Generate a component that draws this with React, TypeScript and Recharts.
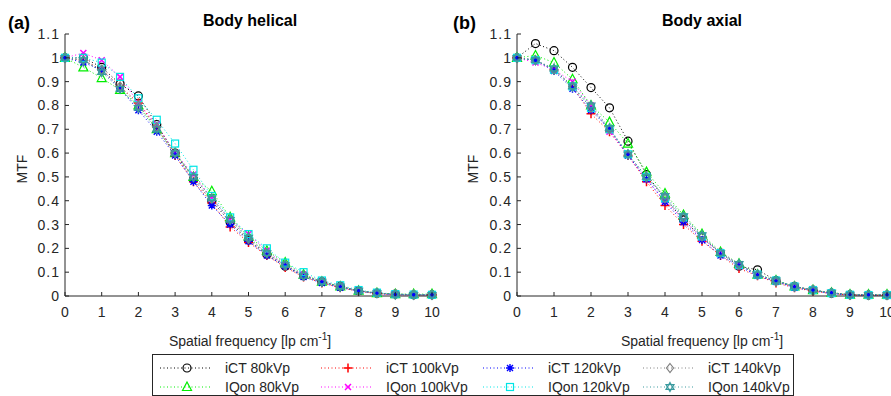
import React from "react"
import { LineChart, Line, XAxis, YAxis } from "recharts"

const freq = [0, 0.5, 1, 1.5, 2, 2.5, 3, 3.5, 4, 4.5, 5, 5.5, 6, 6.5, 7, 7.5, 8, 8.5, 9, 9.5, 10]
const xTicks = [0, 1, 2, 3, 4, 5, 6, 7, 8, 9, 10]
const yTicks = [0, 0.1, 0.2, 0.3, 0.4, 0.5, 0.6, 0.7, 0.8, 0.9, 1, 1.1]

// Body helical
const helICT80 = [1, 1.0, 0.96, 0.89, 0.84, 0.72, 0.6, 0.49, 0.4, 0.31, 0.235, 0.175, 0.125, 0.085, 0.06, 0.04, 0.022, 0.012, 0.008, 0.005, 0.005]
const helIQ80 = [1, 0.96, 0.915, 0.865, 0.8, 0.7, 0.6, 0.5, 0.44, 0.33, 0.25, 0.19, 0.14, 0.09, 0.06, 0.04, 0.022, 0.012, 0.008, 0.008, 0.008]
const helICT100 = [1, 0.99, 0.95, 0.88, 0.81, 0.71, 0.59, 0.48, 0.39, 0.29, 0.225, 0.17, 0.12, 0.08, 0.055, 0.035, 0.02, 0.01, 0.005, 0.004, 0.004]
const helIQ100 = [1, 1.02, 0.99, 0.92, 0.81, 0.72, 0.6, 0.51, 0.41, 0.32, 0.26, 0.19, 0.13, 0.09, 0.06, 0.04, 0.022, 0.012, 0.006, 0.005, 0.005]
const helICT120 = [1, 0.98, 0.95, 0.87, 0.78, 0.69, 0.59, 0.48, 0.38, 0.3, 0.23, 0.17, 0.125, 0.08, 0.055, 0.035, 0.02, 0.01, 0.005, 0.004, 0.004]
const helIQ120 = [1, 1.0, 0.98, 0.92, 0.83, 0.74, 0.64, 0.53, 0.42, 0.33, 0.26, 0.2, 0.14, 0.1, 0.065, 0.045, 0.025, 0.014, 0.008, 0.006, 0.005]
const helICT140 = [1, 0.99, 0.95, 0.88, 0.8, 0.71, 0.6, 0.5, 0.41, 0.32, 0.24, 0.18, 0.13, 0.085, 0.06, 0.04, 0.02, 0.012, 0.008, 0.006, 0.005]
const helIQ140 = [1, 0.99, 0.94, 0.87, 0.79, 0.7, 0.6, 0.5, 0.41, 0.32, 0.245, 0.18, 0.13, 0.085, 0.06, 0.04, 0.022, 0.012, 0.006, 0.005, 0.005]

// Body axial
const axICT80 = [1, 1.06, 1.03, 0.96, 0.875, 0.79, 0.65, 0.51, 0.41, 0.32, 0.245, 0.18, 0.125, 0.11, 0.065, 0.04, 0.025, 0.012, 0.005, 0.004, 0.004]
const axIQ80 = [1, 1.01, 0.98, 0.91, 0.8, 0.73, 0.64, 0.52, 0.43, 0.34, 0.26, 0.185, 0.135, 0.09, 0.065, 0.04, 0.025, 0.014, 0.006, 0.006, 0.006]
const axICT100 = [1, 0.99, 0.95, 0.88, 0.765, 0.69, 0.59, 0.48, 0.38, 0.3, 0.23, 0.17, 0.115, 0.085, 0.055, 0.035, 0.02, 0.01, 0.004, 0.003, 0.003]
const axIQ100 = [1, 0.98, 0.95, 0.9, 0.8, 0.69, 0.59, 0.49, 0.4, 0.32, 0.24, 0.185, 0.13, 0.09, 0.06, 0.04, 0.025, 0.012, 0.005, 0.004, 0.004]
const axICT120 = [1, 0.99, 0.945, 0.87, 0.78, 0.7, 0.59, 0.49, 0.395, 0.31, 0.235, 0.17, 0.125, 0.085, 0.06, 0.035, 0.022, 0.01, 0.004, 0.003, 0.003]
const axIQ120 = [1, 0.99, 0.95, 0.88, 0.79, 0.7, 0.595, 0.5, 0.41, 0.33, 0.25, 0.18, 0.13, 0.09, 0.065, 0.04, 0.025, 0.012, 0.005, 0.004, 0.004]
const axICT140 = [1, 0.99, 0.95, 0.88, 0.79, 0.7, 0.595, 0.5, 0.41, 0.33, 0.25, 0.18, 0.13, 0.09, 0.06, 0.04, 0.025, 0.012, 0.005, 0.004, 0.004]
const axIQ140 = [1, 0.99, 0.955, 0.88, 0.8, 0.705, 0.595, 0.5, 0.42, 0.335, 0.255, 0.18, 0.135, 0.09, 0.065, 0.04, 0.025, 0.014, 0.006, 0.005, 0.005]

const series = [
  { key: "ict80", name: "iCT 80kVp", color: "#000000", marker: "circle" },
  { key: "iq80", name: "IQon 80kVp", color: "#00ee00", marker: "triangle" },
  { key: "ict100", name: "iCT 100kVp", color: "#ff0000", marker: "plus" },
  { key: "iq100", name: "IQon 100kVp", color: "#ff00ff", marker: "cross" },
  { key: "ict120", name: "iCT 120kVp", color: "#0000ff", marker: "star" },
  { key: "iq120", name: "IQon 120kVp", color: "#00e5e5", marker: "square" },
  { key: "ict140", name: "iCT 140kVp", color: "#808080", marker: "diamond" },
  { key: "iq140", name: "IQon 140kVp", color: "#3a9a9e", marker: "hexagram" },
]

const buildRows = (cols: number[][]) =>
  freq.map((f, i) => {
    const row: Record<string, number> = { f }
    series.forEach((s, j) => (row[s.key] = cols[j][i]))
    return row
  })

const helicalData = buildRows([helICT80, helIQ80, helICT100, helIQ100, helICT120, helIQ120, helICT140, helIQ140])
const axialData = buildRows([axICT80, axIQ80, axICT100, axIQ100, axICT120, axIQ120, axICT140, axIQ140])

const FONT = "'Liberation Sans', Arial, Helvetica, sans-serif"
const AXIS = "#262626"

function Marker({ kind, cx, cy, color }: { kind: string; cx: number; cy: number; color: string }) {
  const p = { fill: "none", stroke: color, strokeWidth: 1.2 }
  switch (kind) {
    case "circle":
      return <circle cx={cx} cy={cy} r={4} {...p} />
    case "triangle":
      return <polygon points={`${cx},${cy - 5} ${cx + 4.5},${cy + 3.5} ${cx - 4.5},${cy + 3.5}`} {...p} />
    case "plus":
      return <path d={`M${cx - 4.5},${cy}H${cx + 4.5}M${cx},${cy - 4.5}V${cy + 4.5}`} {...p} strokeWidth={1.5} />
    case "cross":
      return <path d={`M${cx - 3},${cy - 3}L${cx + 3},${cy + 3}M${cx + 3},${cy - 3}L${cx - 3},${cy + 3}`} {...p} strokeWidth={1.5} />
    case "star":
      return (
        <path
          d={`M${cx - 4},${cy}H${cx + 4}M${cx},${cy - 4}V${cy + 4}M${cx - 3},${cy - 3}L${cx + 3},${cy + 3}M${cx + 3},${cy - 3}L${cx - 3},${cy + 3}`}
          {...p}
          strokeWidth={1.4}
        />
      )
    case "square":
      return <rect x={cx - 3.5} y={cy - 3.5} width={7} height={7} {...p} />
    case "diamond":
      return <polygon points={`${cx},${cy - 4.5} ${cx + 3.5},${cy} ${cx},${cy + 4.5} ${cx - 3.5},${cy}`} {...p} />
    default:
      return (
        <g {...p}>
          <polygon points={`${cx},${cy - 4.5} ${cx + 4},${cy + 2.3} ${cx - 4},${cy + 2.3}`} />
          <polygon points={`${cx},${cy + 4.5} ${cx + 4},${cy - 2.3} ${cx - 4},${cy - 2.3}`} />
        </g>
      )
  }
}

const XTick = (props: any) => {
  const { x, y, payload } = props
  return (
    <g>
      <line x1={x} y1={y} x2={x} y2={y - 4} stroke={AXIS} />
      <text x={x} y={y + 21} textAnchor="middle" fontSize={14} fontFamily={FONT} fill={AXIS}>
        {payload.value}
      </text>
    </g>
  )
}

const YTick = (props: any) => {
  const { x, y, payload } = props
  return (
    <g>
      <line x1={x} y1={y} x2={x + 4} y2={y} stroke={AXIS} />
      <text x={x - 5} y={y + 5} textAnchor="end" fontSize={14} fontFamily={FONT} fill={AXIS} letterSpacing={1}>
        {payload.value}
      </text>
    </g>
  )
}

function Panel({ data, width, margin }: { data: any[]; width: number; margin: any }) {
  return (
    <LineChart width={width} height={340} data={data} margin={margin}>
      <XAxis
        dataKey="f"
        type="number"
        domain={[0, 10]}
        ticks={xTicks}
        height={1}
        tickSize={0}
        tickMargin={0}
        tickLine={false}
        tick={XTick}
        stroke={AXIS}
        interval={0}
      />
      <YAxis
        type="number"
        domain={[0, 1.1]}
        ticks={yTicks}
        width={1}
        tickSize={0}
        tickMargin={0}
        tickLine={false}
        tick={YTick}
        stroke={AXIS}
        interval={0}
      />
      {series.map((s) => (
        <Line
          key={s.key}
          dataKey={s.key}
          name={s.name}
          stroke={s.color}
          strokeWidth={1}
          strokeDasharray="1 2.5"
          isAnimationActive={false}
          dot={(d: any) => <Marker key={`${s.key}-${d.index}`} kind={s.marker} cx={d.cx} cy={d.cy} color={s.color} />}
        />
      ))}
    </LineChart>
  )
}

const legendCols = [187, 348, 510, 670]

export default function App() {
  return (
    <div style={{ position: "absolute", left: 0, top: 0, width: 891, height: 396, overflow: "hidden", background: "#fff" }}>
      <div style={{ position: "absolute", left: 0, top: 0 }}>
        <Panel data={helicalData} width={450} margin={{ top: 34, left: 64, right: 18, bottom: 43 }} />
      </div>
      <div style={{ position: "absolute", left: 450, top: 0 }}>
        <Panel data={axialData} width={441} margin={{ top: 34, left: 66, right: 4, bottom: 43 }} />
      </div>
      <svg width={891} height={396} style={{ position: "absolute", left: 0, top: 0, pointerEvents: "none" }} fontFamily={FONT}>
        <text x={8} y={29} fontSize={18} fontWeight="bold">(a)</text>
        <text x={453} y={29} fontSize={18} fontWeight="bold">(b)</text>
        <text x={250} y={26} fontSize={16} fontWeight="bold" textAnchor="middle">Body helical</text>
        <text x={702} y={26} fontSize={16} fontWeight="bold" textAnchor="middle">Body axial</text>
        <text x={27} y={169} fontSize={14} fill={AXIS} textAnchor="middle" transform="rotate(-90 27 169)">MTF</text>
        <text x={478} y={169} fontSize={14} fill={AXIS} textAnchor="middle" transform="rotate(-90 478 169)">MTF</text>
        {[250, 702].map((cx) => (
          <text key={cx} x={cx} y={346} fontSize={14} fill={AXIS} textAnchor="middle">
            Spatial frequency [lp cm<tspan fontSize={10} dy={-6}>-1</tspan><tspan dy={6}>]</tspan>
          </text>
        ))}
        <rect x={152.5} y={354.5} width={641} height={41} fill="#fff" stroke={AXIS} strokeWidth={1} />
        {series.map((s, i) => {
          const col = Math.floor(i / 2)
          const row = i % 2
          const mx = legendCols[col]
          const my = 368 + row * 19
          return (
            <g key={s.key}>
              <line x1={mx - 27} y1={my} x2={mx + 24} y2={my} stroke={s.color} strokeDasharray="1 2.5" />
              <Marker kind={s.marker} cx={mx} cy={my} color={s.color} />
              <text x={mx + 38} y={my + 5} fontSize={14} fill={AXIS}>{s.name}</text>
            </g>
          )
        })}
      </svg>
    </div>
  )
}
